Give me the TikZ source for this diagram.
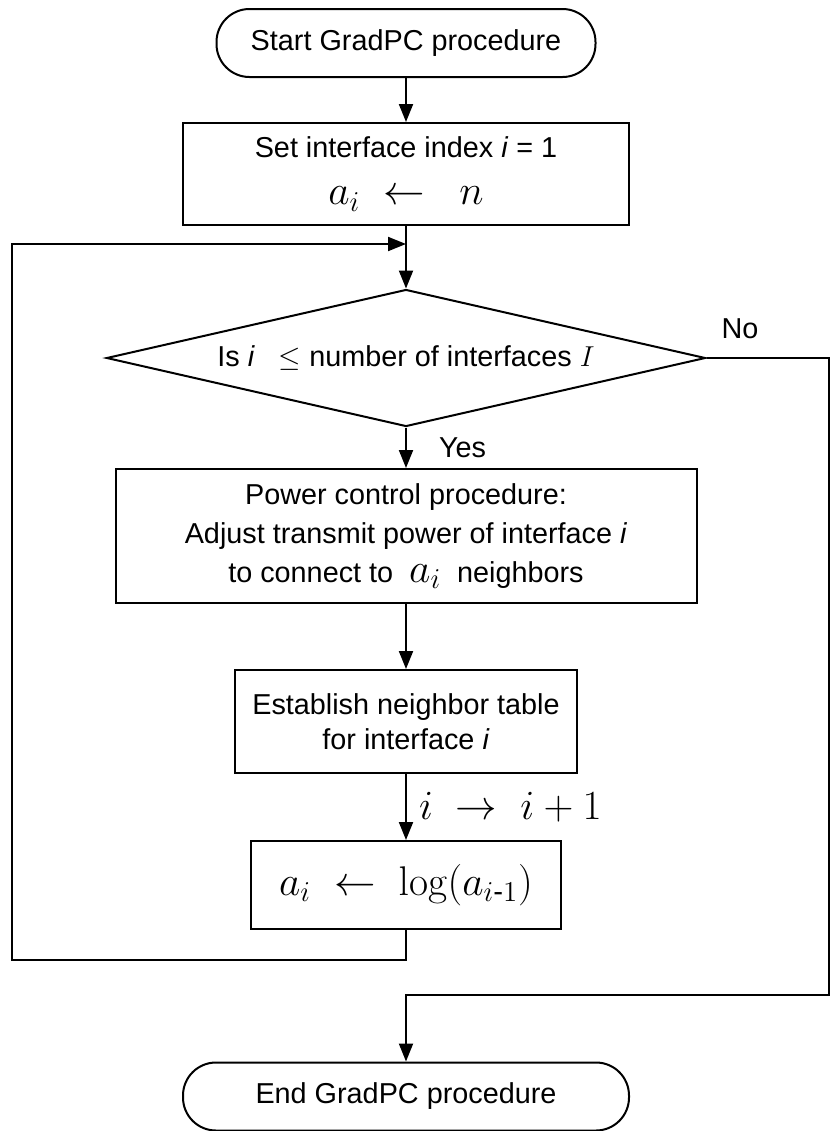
\documentclass[tikz,border=0pt]{standalone}
\usepackage{amsmath}
\usepackage[no-math]{fontspec}
\setmainfont{Liberation Sans}
\usetikzlibrary{shapes.geometric,arrows.meta,positioning}
\newcommand{\lgmath}[1]{{\fontsize{21}{24}\selectfont$#1$}}

\begin{document}
\begin{tikzpicture}[x=0.5pt,y=-0.5pt,line width=1pt,>={Triangle[width=7pt,length=9pt]}]
\useasboundingbox (0,0) rectangle (832,1131);

\tikzstyle{every node}=[font=\fontsize{14.4}{17.5}\selectfont];
\tikzstyle{terminal}=[draw,rounded corners=16.5pt,minimum height=34pt,align=center];
\tikzstyle{stepbox}=[draw,align=center];
\tikzstyle{decision}=[draw,diamond,aspect=4.4,inner sep=0pt,minimum width=299.5pt,minimum height=68.5pt];
\tikzstyle{lbl}=[inner sep=0pt];

% points
\path (406,43)     node[terminal,minimum width=189.5pt] (Start) {Start GradPC procedure};
\path (406,174)    node[stepbox,minimum width=223pt,minimum height=51pt] (SetIndex)
  {Set interface index \textit{i} = 1\\[6pt] \lgmath{a_i \;\leftarrow\;\; n}};
\path (406,358)    node[decision] (Check)
  {Is \textit{i} \ \ $\leq$ number of interfaces $I$};
\path (406,536)    node[stepbox,minimum width=290.5pt,minimum height=67pt] (PowerCtrl)
  {Power control procedure:\\[2pt] Adjust transmit power of interface \textit{i}\\[2pt]
   to connect to \ \lgmath{a_i} \ neighbors};
\path (406,721.5)  node[stepbox,minimum width=171pt,minimum height=51.5pt] (Table)
  {Establish neighbor table\\ for interface \textit{i}};
\path (406,885)    node[stepbox,minimum width=155pt,minimum height=44pt] (Update)
  {\lgmath{a_i \;\leftarrow\; \log(a_{i\text{-}1})}};
\path (406,1096.5) node[terminal,minimum width=223pt] (End) {End GradPC procedure};

\coordinate (Join) at (406,244);
\coordinate (LoopL) at (12,960);
\coordinate (NoR) at (829,358);
\coordinate (NoB) at (406,995);

% edges
\draw[->] (Start) -- (SetIndex);
\draw (SetIndex) -- (Join);
\draw[->] (Join) -- (Check);
\draw[->] (Check) -- node[lbl,right=16pt] {Yes} (PowerCtrl);
\draw[->] (PowerCtrl) -- (Table);
\draw[->] (Table) -- node[lbl,right=6pt] {\lgmath{i \;\rightarrow\; i+1}} (Update);
\draw[->] (Update) |- (LoopL) |- (Join);
\draw[->] (Check.east) node[lbl,anchor=south west,xshift=7pt,yshift=9pt] {No}
  -- (NoR) |- (NoB) -- (End);

\end{tikzpicture}
\end{document}
